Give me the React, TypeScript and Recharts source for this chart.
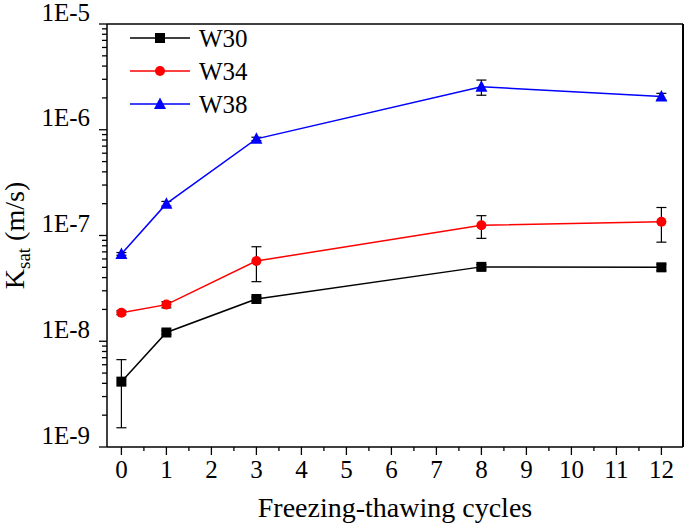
import { LineChart, Line, XAxis, YAxis, ErrorBar, ReferenceLine, Legend } from 'recharts';

// freezing-thawing cycles
const cycles = [0, 1, 3, 8, 12];

// saturated hydraulic conductivity (m/s)
const w30 = [4.15e-9, 1.21e-8, 2.51e-8, 5.05e-8, 5.0e-8];
const w34 = [1.86e-8, 2.22e-8, 5.74e-8, 1.25e-7, 1.35e-7];
const w38 = [6.7e-8, 2.0e-7, 8.2e-7, 2.55e-6, 2.06e-6];

// [lower, upper] error
const w30Err = [[2.63e-9, 2.55e-9], [0.05e-8, 0.05e-8], [0.1e-8, 0.1e-8], [0.25e-8, 0.25e-8], [0.35e-8, 0.35e-8]];
const w34Err = [[0.08e-8, 0.08e-8], [0.15e-8, 0.15e-8], [2.08e-8, 2.09e-8], [0.31e-7, 0.29e-7], [0.485e-7, 0.49e-7]];
const w38Err = [[0.2e-8, 0.2e-8], [0.1e-7, 0.1e-7], [0.3e-7, 0.3e-7], [0.43e-6, 0.4e-6], [0.15e-6, 0.15e-6]];

const xMajorTicks = [0, 1, 2, 3, 4, 5, 6, 7, 8, 9, 10, 11, 12];
const xMinorTicks = [0.5, 1.5, 2.5, 3.5, 4.5, 5.5, 6.5, 7.5, 8.5, 9.5, 10.5, 11.5];
const yMajorTicks = [1e-9, 1e-8, 1e-7, 1e-6, 1e-5];
const yMinorMultipliers = [2, 3, 4, 5, 6, 7, 8, 9];

const X_MIN = -0.32;
const X_MAX = 12.48;
const FONT = "'Liberation Serif', 'DejaVu Serif', 'Times New Roman', Times, serif";
const TICK = 8;
const MARGIN = 6;

const yMinorTicks = yMajorTicks.slice(0, -1).flatMap((d) => yMinorMultipliers.map((m) => m * d));

const data = cycles.map((c, i) => ({
  cycle: c,
  w30: w30[i],
  w34: w34[i],
  w38: w38[i],
  w30Err: w30Err[i],
  w34Err: w34Err[i],
  w38Err: w38Err[i],
}));

const isDecade = (v: number) => Math.abs(Math.log10(v) - Math.round(Math.log10(v))) < 1e-6;

const txt = (size: number) => ({ fontFamily: FONT, fontSize: size });

function YTick(props: any) {
  const { x, y, payload } = props;
  const v = payload.value as number;
  const axisX = x + TICK + MARGIN;
  const major = isDecade(v);
  return (
    <g>
      <line x1={axisX} x2={axisX - (major ? 8 : 5)} y1={y} y2={y} stroke="#000" strokeWidth={1.3} />
      {major && (
        <text x={axisX - 17} y={y - 12} textAnchor="end" dominantBaseline="central" style={txt(25)} fill="#000">
          {`1E${Math.round(Math.log10(v))}`}
        </text>
      )}
    </g>
  );
}

function XTick(props: any) {
  const { x, y, payload } = props;
  const v = payload.value as number;
  const axisY = y - TICK - MARGIN;
  const major = Number.isInteger(v);
  return (
    <g>
      <line x1={x} x2={x} y1={axisY} y2={axisY + (major ? 8 : 4)} stroke="#000" strokeWidth={1.3} />
      {major && (
        <text x={x} y={axisY + 22} textAnchor="middle" dominantBaseline="central" style={txt(25)} fill="#000">
          {v}
        </text>
      )}
    </g>
  );
}

function XTitle(props: any) {
  const { x, y, width } = props.viewBox;
  return (
    <text x={x + width / 2} y={y + 70} textAnchor="middle" style={txt(28)} fill="#000">
      Freezing-thawing cycles
    </text>
  );
}

function YTitle(props: any) {
  const { y, height } = props.viewBox;
  return (
    <text transform={`translate(24, ${y + height / 2}) rotate(-90)`} textAnchor="middle" style={txt(28)} fill="#000">
      <tspan>K</tspan>
      <tspan dy={6} style={txt(19)}>sat</tspan>
      <tspan dy={-6}>{' (m/s)'}</tspan>
    </text>
  );
}

function SquareDot(props: any) {
  const { cx, cy, index } = props;
  return <rect key={`s-${index}`} x={cx - 5} y={cy - 5} width={10} height={10} fill="#000" />;
}

function TriangleDot(props: any) {
  const { cx, cy, index } = props;
  return <polygon key={`t-${index}`} points={`${cx},${cy - 6.5} ${cx - 6},${cy + 5} ${cx + 6},${cy + 5}`} fill="#0000ff" />;
}

function LegendBox(props: any) {
  const items = props.payload || [];
  return (
    <svg width={140} height={105}>
      {items.map((e: any, i: number) => {
        const cy = 18 + 33 * i;
        return (
          <g key={e.value}>
            <line x1={5} x2={65} y1={cy} y2={cy} stroke={e.color} strokeWidth={1.5} />
            {e.value === 'W30' && <SquareDot cx={35} cy={cy} />}
            {e.value === 'W34' && <circle cx={35} cy={cy} r={5} fill="#ff0000" />}
            {e.value === 'W38' && <TriangleDot cx={35} cy={cy} />}
            <text x={74} y={cy} dominantBaseline="central" style={txt(25)} fill="#000">
              {e.value}
            </text>
          </g>
        );
      })}
    </svg>
  );
}

export default function App() {
  return (
    <div style={{ position: 'absolute', left: 0, top: 0, background: '#fff', fontFamily: FONT }}>
      <LineChart width={685} height={524} data={data} margin={{ top: 24, right: 2, bottom: 0, left: 0 }}>
        <XAxis
          dataKey="cycle"
          type="number"
          domain={[X_MIN, X_MAX]}
          allowDataOverflow
          ticks={[...xMajorTicks, ...xMinorTicks]}
          interval={0}
          height={77}
          tickSize={TICK}
          tickMargin={MARGIN}
          tickLine={false}
          tick={<XTick />}
          stroke="#000"
          strokeWidth={1.5}
          label={<XTitle />}
        />
        <YAxis
          type="number"
          scale="log"
          domain={[1e-9, 1e-5]}
          allowDataOverflow
          ticks={[...yMajorTicks, ...yMinorTicks]}
          interval={0}
          width={107}
          tickSize={TICK}
          tickMargin={MARGIN}
          tickLine={false}
          tick={<YTick />}
          stroke="#000"
          strokeWidth={1.5}
          label={<YTitle />}
        />
        <ReferenceLine y={1e-5} stroke="#000" strokeWidth={1.5} />
        <ReferenceLine x={X_MAX} stroke="#000" strokeWidth={2} />
        <Legend
          layout="vertical"
          align="center"
          verticalAlign="middle"
          wrapperStyle={{ left: 125, top: 20, width: 140 }}
          content={<LegendBox />}
        />
        <Line type="linear" dataKey="w30" name="W30" stroke="#000000" strokeWidth={1.5} dot={<SquareDot />} activeDot={false} isAnimationActive={false}>
          <ErrorBar dataKey="w30Err" width={5} stroke="#000" strokeWidth={1.2} />
        </Line>
        <Line type="linear" dataKey="w34" name="W34" stroke="#ff0000" strokeWidth={1.5} dot={{ r: 5, fill: '#ff0000', stroke: '#ff0000', strokeWidth: 0 }} activeDot={false} isAnimationActive={false}>
          <ErrorBar dataKey="w34Err" width={5} stroke="#000" strokeWidth={1.2} />
        </Line>
        <Line type="linear" dataKey="w38" name="W38" stroke="#0000ff" strokeWidth={1.5} dot={<TriangleDot />} activeDot={false} isAnimationActive={false}>
          <ErrorBar dataKey="w38Err" width={5} stroke="#000" strokeWidth={1.2} />
        </Line>
      </LineChart>
    </div>
  );
}
